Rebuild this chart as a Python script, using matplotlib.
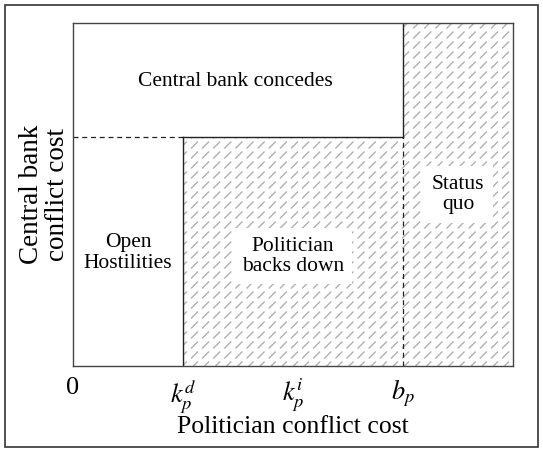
import numpy as np
import matplotlib
matplotlib.use("Agg")
import matplotlib.pyplot as plt
import matplotlib.hatch as mhatch
from matplotlib.path import Path
from matplotlib.patches import Polygon, Rectangle


class DashedNEHatch(mhatch.HatchPatternBase):
    """'/' hatch drawn as a grid of short diagonal dashes."""
    ncols, nrows, half = 9, 10, 0.03

    def __init__(self, hatch, density):
        n = hatch.count('/')
        self.num_dashes = self.ncols * self.nrows if n > 0 else 0
        self.num_vertices = self.num_dashes * 2

    def set_vertices_and_codes(self, vertices, codes):
        cx = (np.arange(self.ncols) + 0.5) / self.ncols
        cy = (np.arange(self.nrows) + 0.5) / self.nrows
        X, Y = np.meshgrid(cx, cy)
        X = X.ravel(); Y = Y.ravel()
        vertices[0::2, 0] = X - self.half
        vertices[0::2, 1] = Y - self.half
        vertices[1::2, 0] = X + self.half
        vertices[1::2, 1] = Y + self.half
        codes[0::2] = Path.MOVETO
        codes[1::2] = Path.LINETO


mhatch._hatch_types = [DashedNEHatch if t is mhatch.NorthEastHatch else t
                       for t in mhatch._hatch_types]

plt.rcParams['font.family'] = ['Liberation Serif', 'DejaVu Serif']
plt.rcParams['mathtext.fontset'] = 'stix'
plt.rcParams['hatch.linewidth'] = 1.0

# thresholds (fractions of axis range)
k_d = 0.25
k_i = 0.5
b_p = 0.75
c_b = 0.667
x_ticks = [0, k_d, k_i, b_p]
x_ticklabels = ['0', r'$k_p^d$', r'$k_p^i$', r'$b_p$']

regions = ['Central bank concedes', 'Open\nHostilities', 'Politician\nbacks down', 'Status\nquo']
region_pos = [(0.37, 0.83), (0.125, 0.33), (0.5, 0.32), (0.875, 0.5)]
region_box = [False, False, True, True]

fig = plt.figure(figsize=(5.43, 4.5), dpi=100)
ax = fig.add_axes([73/543, 1-366/450, 440/543, 343/450])
ax.set_xlim(0, 1)
ax.set_ylim(0, 1)

# hatched area
poly = Polygon([(k_d, 0), (k_d, c_b), (b_p, c_b), (b_p, 1), (1, 1), (1, 0)],
               closed=True, facecolor='white', edgecolor='#b0b0b0', linewidth=0,
               hatch='/', zorder=1)
ax.add_patch(poly)

lc = '#222222'
ax.plot([0, k_d], [c_b, c_b], ls=(0, (4, 3)), color=lc, lw=0.9, zorder=3)
ax.plot([k_d, b_p], [c_b, c_b], color=lc, lw=1.0, zorder=3)
ax.plot([k_d, k_d], [0, c_b], color=lc, lw=1.0, zorder=3)
ax.plot([b_p, b_p], [c_b, 1], color=lc, lw=1.0, zorder=3)
ax.plot([b_p, b_p], [0, c_b], ls=(0, (4, 3)), color=lc, lw=0.9, zorder=3)

for s in ax.spines.values():
    s.set_color('#444444')
    s.set_linewidth(1.0)
    s.set_zorder(3)

for lab, (x, y), box in zip(regions, region_pos, region_box):
    kw = {}
    if box:
        kw['bbox'] = dict(facecolor='white', edgecolor='none', pad=6)
    ax.text(x, y, lab, ha='center', va='center', fontsize=15.5, linespacing=1.1,
            zorder=4, **kw)

ax.set_xticks(x_ticks)
ax.set_xticklabels(x_ticklabels, fontsize=19)
ax.set_yticks([])
ax.tick_params(axis='x', length=0, pad=8)
ax.set_xlabel('Politician conflict cost', fontsize=18.5, labelpad=0)
ax.set_ylabel('Central bank\nconflict cost', fontsize=19.5, linespacing=1.05, labelpad=2)

fig.add_artist(Rectangle((5/543, 3/450), 533/543, 442/450, transform=fig.transFigure,
                         fill=False, edgecolor='#333333', lw=1.2))

fig.savefig('out.png', dpi=100)
